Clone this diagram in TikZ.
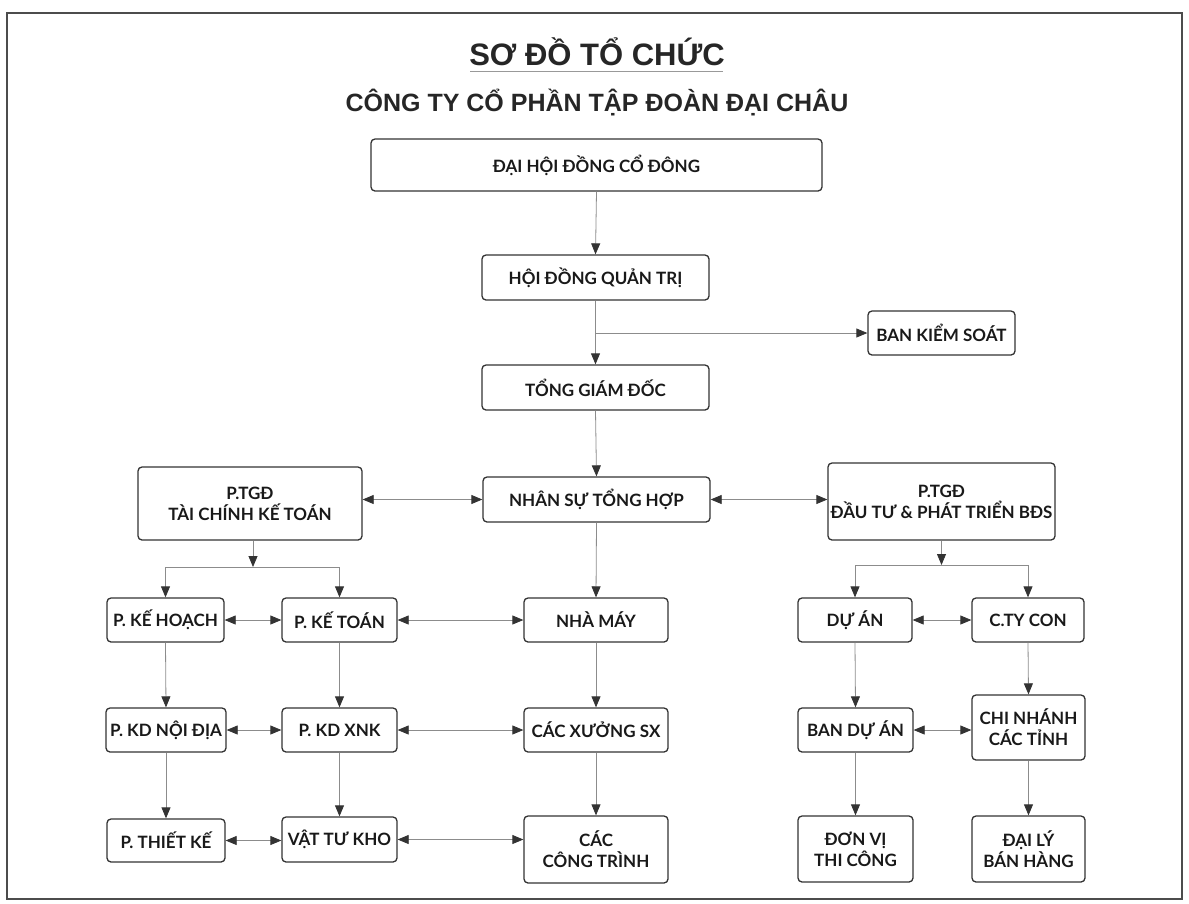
\documentclass[tikz,border=0pt]{standalone}
\usepackage{fontspec}
\setmainfont{Lato}
\newfontfamily\headfont{Liberation Sans}
\usetikzlibrary{arrows.meta}
\tikzset{
  box/.style={draw=black!80, line width=1.3pt, rounded corners=4pt, fill=white, align=center,
    font=\bfseries\fontsize{17}{21}\selectfont, text=black!90, inner sep=0pt},
  conn/.style={draw=black!45, line width=0.8pt},
  arr/.style={conn, -{Triangle[length=11pt,width=9pt,color=black!80]}},
  darr/.style={conn, {Triangle[length=11pt,width=9pt,color=black!80]}-{Triangle[length=11pt,width=9pt,color=black!80]}}
}
\begin{document}
\begin{tikzpicture}[x=1pt,y=-1pt]
\useasboundingbox (0,0) rectangle (1189,903);
\draw[line width=2.5pt, black!70] (7,13) rectangle (1182,899);
% titles
\node[font=\headfont\bfseries\fontsize{31}{34}\selectfont, text=black!85] (title) at (597,52) {SƠ ĐỒ TỔ CHỨC};
\draw[black!40, line width=0.8pt] (470,71) -- (723,71);
\node[font=\headfont\bfseries\fontsize{25}{28}\selectfont, text=black!85] (sub) at (597,103) {CÔNG TY CỔ PHẦN TẬP ĐOÀN ĐẠI CHÂU};
% boxes
\node[box, minimum width=451pt, minimum height=52pt] (dh) at (596.5,165) {ĐẠI HỘI ĐỒNG CỔ ĐÔNG};
\node[box, minimum width=227pt, minimum height=45pt] (hdqt) at (595.5,277.5) {HỘI ĐỒNG QUẢN TRỊ};
\node[box, minimum width=227pt, minimum height=45pt] (tgd) at (595.5,387.5) {TỔNG GIÁM ĐỐC};
\node[box, minimum width=147pt, minimum height=44pt] (bks) at (941.5,333) {BAN KIỂM SOÁT};
\node[box, minimum width=227pt, minimum height=45pt] (nsth) at (596.5,499.5) {NHÂN SỰ TỔNG HỢP};
\node[box, minimum width=224pt, minimum height=73pt] (tckt) at (250,503.5) {P.TGĐ\\TÀI CHÍNH KẾ TOÁN};
\node[box, minimum width=227pt, minimum height=77pt] (dt) at (941.5,501.5) {P.TGĐ\\ĐẦU TƯ \& PHÁT TRIỂN BĐS};
% row 1
\node[box, minimum width=117pt, minimum height=44pt] (kh) at (165.5,620) {P. KẾ HOẠCH};
\node[box, minimum width=115pt, minimum height=44pt] (kt) at (339.5,620) {P. KẾ TOÁN};
\node[box, minimum width=144pt, minimum height=44pt] (nm) at (596,620) {NHÀ MÁY};
\node[box, minimum width=114pt, minimum height=44pt] (da) at (855,620) {DỰ ÁN};
\node[box, minimum width=112pt, minimum height=44pt] (cty) at (1028,620) {C.TY CON};
% row 2
\node[box, minimum width=120pt, minimum height=44pt] (kdnd) at (166,730) {P. KD NỘI ĐỊA};
\node[box, minimum width=115pt, minimum height=44pt] (xnk) at (339.5,730) {P. KD XNK};
\node[box, minimum width=144pt, minimum height=44pt] (xuong) at (596,730) {CÁC XƯỞNG SX};
\node[box, minimum width=115pt, minimum height=44pt] (bda) at (855.5,730) {BAN DỰ ÁN};
\node[box, minimum width=113pt, minimum height=65pt] (cn) at (1028.5,727.5) {CHI NHÁNH\\CÁC TỈNH};
% row 3
\node[box, minimum width=118pt, minimum height=43pt] (tk) at (166,840.5) {P. THIẾT KẾ};
\node[box, minimum width=115pt, minimum height=45pt] (vtk) at (339.5,839.5) {VẬT TƯ KHO};
\node[box, minimum width=144pt, minimum height=67pt] (ct) at (596,849.5) {CÁC\\CÔNG TRÌNH};
\node[box, minimum width=115pt, minimum height=66pt] (dv) at (855.5,849) {ĐƠN VỊ\\THI CÔNG};
\node[box, minimum width=113pt, minimum height=66pt] (dl) at (1028.5,849) {ĐẠI LÝ\\BÁN HÀNG};
% connectors top
\draw[arr] (dh.south) -- (hdqt.north);
\draw[arr] (hdqt.south) -- (tgd.north);
\coordinate (jb) at (hdqt.south |- bks.west);
\draw[arr] (jb) -- (bks.west);
\draw[arr] (tgd.south) -- (nsth.north);
\draw[darr] (tckt.east |- nsth.west) -- (nsth.west);
\draw[darr] (nsth.east) -- (nsth.east -| dt.west);
% left branch
\coordinate (j1) at (253,567);
\draw[arr] (j1 |- tckt.south) -- (j1);
\draw[conn] (j1 -| kh.north) -- (j1 -| kt.north);
\draw[arr] (j1 -| kh.north) -- (kh.north);
\draw[arr] (j1 -| kt.north) -- (kt.north);
\draw[arr] (nsth.south) -- (nm.north);
\draw[darr] (kh.east) -- (kt.west);
\draw[darr] (kt.east) -- (nm.west);
\draw[arr] (kh.south) -- (kdnd.north);
\draw[arr] (kt.south) -- (xnk.north);
\draw[arr] (nm.south) -- (xuong.north);
\draw[darr] (kdnd.east) -- (xnk.west);
\draw[darr] (xnk.east) -- (xuong.west);
\draw[arr] (kdnd.south) -- (tk.north);
\draw[arr] (xnk.south) -- (vtk.north);
\draw[arr] (xuong.south) -- (ct.north);
\draw[darr] (tk.east) -- (tk.east -| vtk.west);
\draw[darr] (vtk.east) -- (vtk.east -| ct.west);
% right branch
\coordinate (j2) at (941.5,565);
\draw[arr] (dt.south) -- (j2);
\draw[conn] (j2 -| da.north) -- (j2 -| cty.north);
\draw[arr] (j2 -| da.north) -- (da.north);
\draw[arr] (j2 -| cty.north) -- (cty.north);
\draw[darr] (da.east) -- (cty.west);
\draw[arr] (da.south) -- (bda.north);
\draw[arr] (cty.south) -- (cn.north);
\draw[darr] (bda.east) -- (bda.east -| cn.west);
\draw[arr] (bda.south) -- (dv.north);
\draw[arr] (cn.south) -- (dl.north);
\end{tikzpicture}
\end{document}
